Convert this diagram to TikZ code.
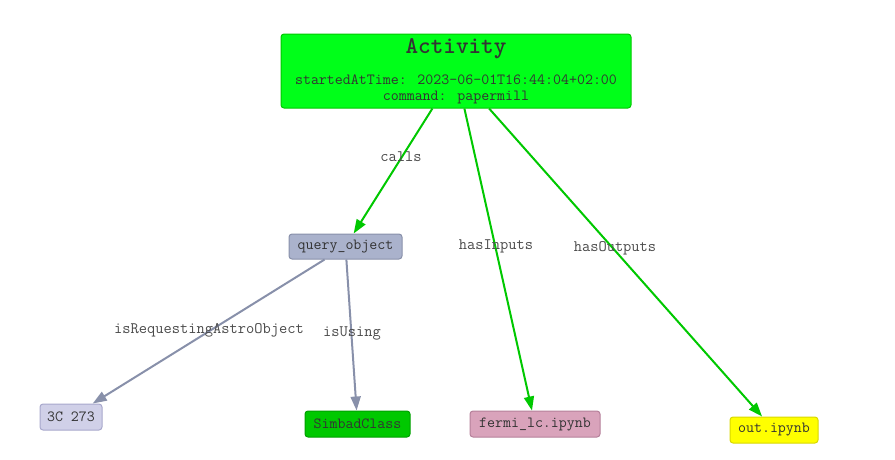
\documentclass[tikz,border=0pt]{standalone}
\usepackage{fontspec}
\usetikzlibrary{positioning, arrows.meta}
\definecolor{ActGreen}{HTML}{00FF19}
\definecolor{ActEdge}{HTML}{00C800}
\definecolor{QueryBlue}{HTML}{AAB2CC}
\definecolor{QueryEdge}{HTML}{8890AA}
\definecolor{AstroLilac}{HTML}{D0D0E8}
\definecolor{AstroEdge}{HTML}{A8A8CC}
\definecolor{SimbadGreen}{HTML}{00C800}
\definecolor{SimbadEdge}{HTML}{00A000}
\definecolor{NbPink}{HTML}{D9A3BB}
\definecolor{NbEdge}{HTML}{B5809A}
\definecolor{OutYellow}{HTML}{FFFF00}
\definecolor{OutEdge}{HTML}{D8D800}
\definecolor{TextGrey}{HTML}{333333}
\definecolor{LabelGrey}{HTML}{4A4A4A}

\begin{document}
\begin{tikzpicture}[
    x=1pt, y=-1pt,
    box/.style={draw, rounded corners=3pt, line width=1pt, inner sep=0pt, align=center, text=TextGrey,
                font=\ttfamily\fontsize{15.5}{15.5}\selectfont},
    actbox/.style={box, fill=ActGreen, draw=ActEdge, minimum width=350pt, minimum height=74pt},
    querybox/.style={box, fill=QueryBlue, draw=QueryEdge, minimum width=113pt, minimum height=25pt},
    astrobox/.style={box, fill=AstroLilac, draw=AstroEdge, minimum width=62pt, minimum height=26pt},
    simbadbox/.style={box, fill=SimbadGreen, draw=SimbadEdge, minimum width=105pt, minimum height=26pt},
    nbbox/.style={box, fill=NbPink, draw=NbEdge, minimum width=130pt, minimum height=26pt},
    outbox/.style={box, fill=OutYellow, draw=OutEdge, minimum width=88pt, minimum height=26pt},
    garr/.style={-{Triangle[length=14pt, width=10pt]}, color=ActEdge, line width=2pt},
    qarr/.style={-{Triangle[length=14pt, width=10pt]}, color=QueryEdge, line width=2pt},
    lbl/.style={text=LabelGrey, font=\ttfamily\fontsize{16}{16}\selectfont, inner sep=0pt}
]
\useasboundingbox (0,0) rectangle (895,459);

% Nodes
\node[actbox] (act) at (456,71) {{\bfseries\fontsize{24}{22}\selectfont Activity}\\[16pt]
    startedAtTime: 2023-06-01T16:44:04+02:00\\ command: papermill};
\node[querybox] (qo) at (345.5,246.5) {query\_object};
\node[astrobox] (astro) at (71,417) {3C 273};
\node[simbadbox] (simbad) at (357.5,424) {SimbadClass};
\node[nbbox] (fermi) at (535,424) {fermi\_lc.ipynb};
\node[outbox] (outnb) at (774,430) {out.ipynb};

% Connectors
\draw[garr] (act) -- (qo);
\draw[garr] (act) -- (fermi);
\draw[garr] (act) -- (outnb);
\draw[qarr] (qo) -- (astro);
\draw[qarr] (qo) -- (simbad);

% Edge labels
\node[lbl] (lcalls) at (401,157) {calls};
\node[lbl] (linputs) at (496,246) {hasInputs};
\node[lbl] (loutputs) at (615,248) {hasOutputs};
\node[lbl] (lastro) at (209,330) {isRequestingAstroObject};
\node[lbl] (lusing) at (352,333) {isUsing};

\end{tikzpicture}
\end{document}
